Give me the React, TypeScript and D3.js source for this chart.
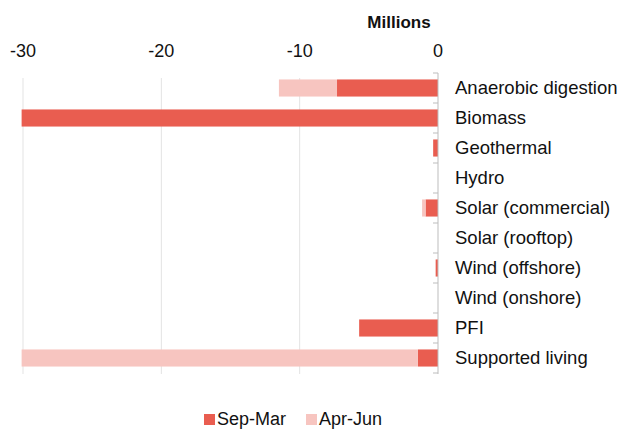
import React, { useRef, useEffect } from 'react';
import * as d3 from 'd3';

const categories = [
  'Anaerobic digestion',
  'Biomass',
  'Geothermal',
  'Hydro',
  'Solar (commercial)',
  'Solar (rooftop)',
  'Wind (offshore)',
  'Wind (onshore)',
  'PFI',
  'Supported living',
];
const sepMar = [-7.3, -30.1, -0.35, 0, -0.9, 0, -0.17, 0, -5.7, -1.45];
const aprJun = [-4.2, 0, 0, 0, -0.25, 0, 0, 0, 0, -28.65];
const seriesNames = ['Sep-Mar', 'Apr-Jun'];
const seriesColors = ['#e95d50', '#f7c5c0'];
const xTicks = [-30, -20, -10, 0];

const App: React.FC = () => {
  const svgRef = useRef<SVGSVGElement>(null);

  useEffect(() => {
    if (!svgRef.current) return;
    const width = 621;
    const height = 430;
    const font = 'Liberation Sans, Arial, sans-serif';

    const svg = d3.select(svgRef.current);
    svg.selectAll('*').remove();

    const x = d3.scaleLinear().domain([-30, 0]).range([23, 438]);
    const y = d3.scaleBand<string>()
      .domain(categories)
      .range([73, 373])
      .paddingInner(0.43)
      .paddingOuter(0.215);

    const rows = categories.map((c, i) => ({ cat: c, 'Sep-Mar': sepMar[i], 'Apr-Jun': aprJun[i] }));
    const stacked = d3.stack<any>()
      .keys(seriesNames)
      .offset(d3.stackOffsetDiverging)(rows);

    // grid lines
    svg.append('g')
      .selectAll('line')
      .data(xTicks.filter(t => t !== 0))
      .enter()
      .append('line')
      .attr('x1', d => x(d))
      .attr('x2', d => x(d))
      .attr('y1', 78)
      .attr('y2', 374)
      .attr('stroke', '#e3e3e3')
      .attr('stroke-width', 1);

    // bars
    stacked.forEach((layer, si) => {
      svg.append('g')
        .attr('fill', seriesColors[si])
        .selectAll('rect')
        .data(layer)
        .enter()
        .append('rect')
        .attr('x', d => x(Math.min(d[0], d[1])))
        .attr('width', d => Math.abs(x(d[1]) - x(d[0])))
        .attr('y', d => y(d.data.cat) as number)
        .attr('height', y.bandwidth());
    });

    // zero axis with category ticks
    const axisX = x(0);
    svg.append('line')
      .attr('x1', axisX).attr('x2', axisX)
      .attr('y1', 73).attr('y2', 374)
      .attr('stroke', '#bdbdbd');
    const bounds = d3.range(categories.length + 1).map(i => 73 + i * y.step());
    svg.append('g')
      .selectAll('line')
      .data(bounds)
      .enter()
      .append('line')
      .attr('x1', axisX - 5).attr('x2', axisX)
      .attr('y1', d => d).attr('y2', d => d)
      .attr('stroke', '#bdbdbd');

    // x tick labels
    svg.append('g')
      .selectAll('text')
      .data(xTicks)
      .enter()
      .append('text')
      .attr('x', d => x(d))
      .attr('y', 57)
      .attr('text-anchor', 'middle')
      .style('font-family', font)
      .style('font-size', '18px')
      .attr('fill', '#111')
      .text(d => String(d));

    svg.append('text')
      .attr('x', 399)
      .attr('y', 28)
      .attr('text-anchor', 'middle')
      .style('font-family', font)
      .style('font-size', '17px')
      .style('font-weight', 'bold')
      .attr('fill', '#111')
      .text('Millions');

    // category labels
    svg.append('g')
      .selectAll('text')
      .data(categories)
      .enter()
      .append('text')
      .attr('x', 455)
      .attr('y', d => (y(d) as number) + y.bandwidth() / 2)
      .attr('dy', '0.35em')
      .style('font-family', font)
      .style('font-size', '18.5px')
      .attr('fill', '#111')
      .text(d => d);

    // legend
    const legendX = [204, 306];
    seriesNames.forEach((name, i) => {
      const g = svg.append('g').attr('transform', `translate(${legendX[i]},414)`);
      g.append('rect').attr('width', 11).attr('height', 11).attr('fill', seriesColors[i]);
      g.append('text')
        .attr('x', 13)
        .attr('y', 11)
        .style('font-family', font)
        .style('font-size', '18px')
        .attr('fill', '#111')
        .text(name);
    });

    svg.attr('width', width).attr('height', height);
  }, []);

  return (
    <svg
      ref={svgRef}
      width={621}
      height={430}
      style={{ position: 'absolute', left: 0, top: 0, background: '#fff' }}
    />
  );
};

export default App;
